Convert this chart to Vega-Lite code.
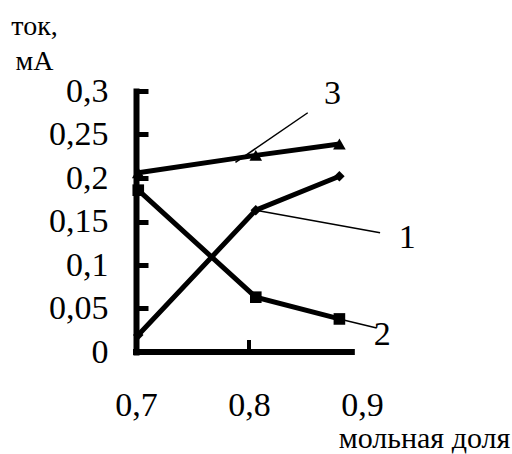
{
  "$schema": "https://vega.github.io/schema/vega-lite/v6.json",
  "width": 226,
  "height": 261,
  "autosize": {"type": "none"},
  "padding": {"left": 136, "top": 91, "right": 150, "bottom": 102},
  "background": "white",
  "config": {
    "view": {"stroke": null},
    "font": "Liberation Serif",
    "axis": {"grid": false, "labelColor": "black", "titleColor": "black", "titleFontWeight": "normal", "labelFlush": false, "labelOverlap": false}
  },
  "datasets": {
    "series": [
      {"molfrac": 0.702, "current": 0.0195, "series": "1"},
      {"molfrac": 0.806, "current": 0.163, "series": "1"},
      {"molfrac": 0.880, "current": 0.202, "series": "1"},
      {"molfrac": 0.702, "current": 0.186, "series": "2"},
      {"molfrac": 0.806, "current": 0.063, "series": "2"},
      {"molfrac": 0.880, "current": 0.038, "series": "2"},
      {"molfrac": 0.702, "current": 0.206, "series": "3"},
      {"molfrac": 0.806, "current": 0.226, "series": "3"},
      {"molfrac": 0.880, "current": 0.239, "series": "3"}
    ],
    "leaders": [
      {"molfrac": 0.788, "current": 0.218, "molfrac2": 0.852, "current2": 0.275},
      {"molfrac": 0.806, "current": 0.163, "molfrac2": 0.916, "current2": 0.137},
      {"molfrac": 0.880, "current": 0.038, "molfrac2": 0.913, "current2": 0.0276}
    ],
    "labels": [
      {"molfrac": 0.874, "current": 0.297, "label": "3"},
      {"molfrac": 0.940, "current": 0.131, "label": "1"},
      {"molfrac": 0.918, "current": 0.0195, "label": "2"}
    ],
    "xaxisline": [
      {"molfrac": 0.7, "molfrac2": 0.891, "current": 0, "current2": 0}
    ],
    "xtick": [
      {"molfrac": 0.8, "molfrac2": 0.8, "current": 0, "current2": 0.0138}
    ]
  },
  "encoding": {
    "x": {
      "field": "molfrac",
      "type": "quantitative",
      "scale": {"domain": [0.7, 0.9], "nice": false, "zero": false},
      "axis": {
        "values": [0.7, 0.8, 0.9],
        "domain": false,
        "ticks": false,
        "labelFont": "Liberation Serif",
        "labelFontSize": 34,
        "labelPadding": 36,
        "labelExpr": "replace(format(datum.value, '.2~f'), '.', ',')",
        "title": "мольная доля",
        "titleFont": "Liberation Serif",
        "titleFontSize": 30,
        "titleAlign": "center",
        "titleBaseline": "alphabetic",
        "titleAnchor": null,
        "titleX": 288,
        "titleY": 95
      }
    },
    "y": {
      "field": "current",
      "type": "quantitative",
      "scale": {"domain": [0, 0.3], "nice": false, "zero": true},
      "axis": {
        "values": [0, 0.05, 0.1, 0.15, 0.2, 0.25, 0.3],
        "domain": true,
        "domainColor": "black",
        "domainWidth": 6,
        "domainCap": "square",
        "ticks": true,
        "tickColor": "black",
        "tickWidth": 5,
        "tickSize": -12,
        "labelFont": "Liberation Serif",
        "labelFontSize": 34,
        "labelPadding": 40,
        "labelExpr": "replace(format(datum.value, '.2~f'), '.', ',')",
        "title": ["ток,", "мА"],
        "titleFont": "Liberation Serif",
        "titleFontSize": 28,
        "titleAngle": 0,
        "titleAlign": "center",
        "titleBaseline": "alphabetic",
        "titleAnchor": null,
        "titleLineHeight": 35,
        "titleX": -102,
        "titleY": -57
      }
    }
  },
  "layer": [
    {
      "data": {"name": "xaxisline"},
      "mark": {"type": "rule", "color": "black", "strokeWidth": 6, "strokeCap": "square"},
      "encoding": {"x2": {"field": "molfrac2"}, "y2": {"field": "current2"}}
    },
    {
      "data": {"name": "xtick"},
      "mark": {"type": "rule", "color": "black", "strokeWidth": 4},
      "encoding": {"x2": {"field": "molfrac2"}, "y2": {"field": "current2"}}
    },
    {
      "data": {"name": "leaders"},
      "mark": {"type": "rule", "color": "black", "strokeWidth": 1.5},
      "encoding": {"x2": {"field": "molfrac2"}, "y2": {"field": "current2"}}
    },
    {
      "data": {"name": "series"},
      "mark": {"type": "line", "color": "black", "strokeWidth": 5},
      "encoding": {"detail": {"field": "series", "type": "nominal"}}
    },
    {
      "data": {"name": "series"},
      "mark": {"type": "point", "filled": true, "color": "black", "opacity": 1},
      "encoding": {
        "shape": {"field": "series", "type": "nominal", "scale": {"domain": ["1", "2", "3"], "range": ["diamond", "square", "triangle-up"]}, "legend": null},
        "size": {"field": "series", "type": "nominal", "scale": {"domain": ["1", "2", "3"], "range": [110, 160, 150]}, "legend": null}
      }
    },
    {
      "data": {"name": "labels"},
      "mark": {"type": "text", "color": "black", "fontSize": 34, "align": "center", "baseline": "middle", "font": "Liberation Serif"},
      "encoding": {"text": {"field": "label", "type": "nominal"}}
    }
  ]
}
